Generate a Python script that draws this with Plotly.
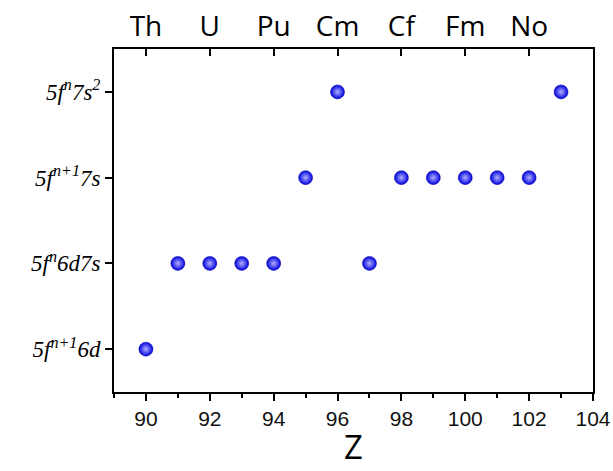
import plotly.graph_objects as go

# Data
Z = [90, 91, 92, 93, 94, 95, 96, 97, 98, 99, 100, 101, 102, 103]
config_level = [0, 1, 1, 1, 1, 2, 3, 1, 2, 2, 2, 2, 2, 3]
config_labels = [
    "<i>5f<sup>n+1</sup>6d</i>",
    "<i>5f<sup>n</sup>6d7s</i>",
    "<i>5f<sup>n+1</sup>7s</i>",
    "<i>5f<sup>n</sup>7s<sup>2</sup></i>",
]
element_Z = [90, 92, 94, 96, 98, 100, 102]
element_names = ["Th", "U", "Pu", "Cm", "Cf", "Fm", "No"]
x_ticks = [90, 92, 94, 96, 98, 100, 102, 104]
x_minor = [89, 91, 93, 95, 97, 99, 101, 103]

fig = go.Figure()
fig.add_trace(go.Scatter(
    x=Z, y=config_level, mode="markers",
    marker=dict(size=14, color="#0000e0",
                gradient=dict(type="radial", color="#b0b0ff"),
                line=dict(width=0.5, color="#0000a0")),
    showlegend=False, hoverinfo="skip",
))
# invisible trace for top axis
fig.add_trace(go.Scatter(x=element_Z, y=[None]*len(element_Z), xaxis="x2",
                         mode="markers", showlegend=False, hoverinfo="skip"))

fig.update_layout(
    width=613, height=471,
    margin=dict(l=114, r=20, t=49, b=79),
    paper_bgcolor="white", plot_bgcolor="white",
    xaxis=dict(range=[89, 104], tickvals=x_ticks, ticks="outside", ticklen=7,
               tickwidth=1.5, tickcolor="black", automargin=False,
               minor=dict(tickvals=x_minor, ticks="outside",
                          ticklen=4, tickwidth=1.5, tickcolor="black"),
               showline=True, linecolor="black", linewidth=2, mirror=False,
               showgrid=False, zeroline=False,
               tickfont=dict(family="Liberation Sans, Arial", size=21, color="#111")),
    xaxis2=dict(range=[89, 104], overlaying="x", side="top", tickvals=element_Z,
                ticktext=element_names, ticks="inside", ticklen=7, tickwidth=1.5,
                tickcolor="black", showline=True, linecolor="black", linewidth=2,
                showgrid=False, zeroline=False, automargin=False,
                tickfont=dict(family="Open Sans, Liberation Sans", size=28, color="black")),
    yaxis=dict(range=[-0.5, 3.5], tickvals=[0, 1, 2, 3], ticktext=config_labels,
               ticks="outside", ticklen=7, tickwidth=1.5, tickcolor="black",
               showline=True, linecolor="black", linewidth=2, mirror=True,
               showgrid=False, zeroline=False, automargin=False,
               tickfont=dict(family="Liberation Serif, Times New Roman", size=23, color="black")),
    annotations=[dict(text="Z", xref="paper", yref="paper", x=0.5, y=-0.16,
                      xanchor="center", yanchor="middle", showarrow=False,
                      font=dict(family="Open Sans, Liberation Sans", size=33, color="black"))],
)

fig.write_html(
    "out.html",
    config={"displayModeBar": False},
    post_script="document.documentElement.style.overflow='hidden';"
                "document.body.style.overflow='hidden';"
                "document.body.style.margin='0';",
)
